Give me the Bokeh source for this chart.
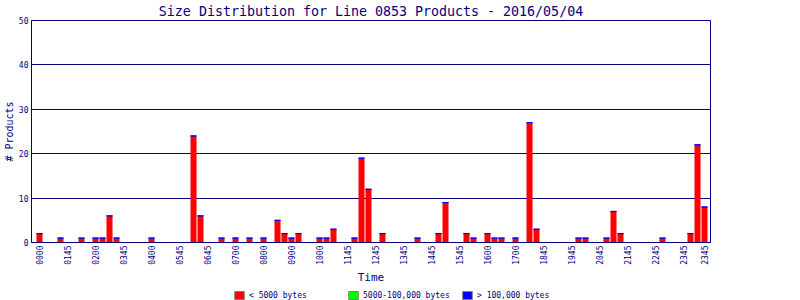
from bokeh.plotting import figure
from bokeh.layouts import column
from bokeh.models import Range1d, FixedTicker, Legend, LegendItem, ColumnDataSource
from bokeh.embed import file_html
from bokeh.resources import INLINE
from math import pi

# 15-minute slots over the day (0 = 00:00 ... 95 = 23:45)
slots = list(range(96))

# products < 5000 bytes per slot
small_counts = [
    2, 0, 0, 1, 0, 0, 1, 0, 1, 1, 6, 1, 0, 0, 0, 0,
    1, 0, 0, 0, 0, 0, 24, 6, 0, 0, 1, 0, 1, 0, 1, 0,
    1, 0, 5, 2, 1, 2, 0, 0, 1, 1, 3, 0, 0, 1, 19, 12,
    0, 2, 0, 0, 0, 0, 1, 0, 0, 2, 9, 0, 0, 2, 1, 0,
    2, 1, 1, 0, 1, 0, 27, 3, 0, 0, 0, 0, 0, 1, 1, 0,
    0, 1, 7, 2, 0, 0, 0, 0, 0, 1, 0, 0, 0, 2, 22, 8,
]
# products 5000-100,000 bytes per slot
medium_counts = [
    0, 0, 0, 0, 0, 0, 0, 0, 0, 0, 0, 0, 0, 0, 0, 0,
    0, 0, 0, 0, 0, 0, 0, 0, 0, 0, 0, 0, 0, 0, 0, 0,
    0, 0, 0, 0, 0, 0, 0, 0, 0, 0, 0, 0, 0, 0, 0, 0,
    0, 0, 0, 0, 0, 0, 0, 0, 0, 0, 0, 0, 0, 0, 0, 0,
    0, 0, 0, 0, 0, 0, 0, 0, 0, 0, 0, 0, 0, 0, 0, 0,
    0, 0, 0, 0, 0, 0, 0, 0, 0, 0, 0, 0, 0, 0, 0, 0,
]
# products > 100,000 bytes per slot
large_counts = [
    0, 0, 0, 0, 0, 0, 0, 0, 0, 0, 0, 0, 0, 0, 0, 0,
    0, 0, 0, 0, 0, 0, 0, 0, 0, 0, 0, 0, 0, 0, 0, 0,
    0, 0, 0, 0, 0, 0, 0, 0, 0, 0, 0, 0, 0, 0, 0, 0,
    0, 0, 0, 0, 0, 0, 0, 0, 0, 0, 0, 0, 0, 0, 0, 0,
    0, 0, 0, 0, 0, 0, 0, 0, 0, 0, 0, 0, 0, 0, 0, 0,
    0, 0, 0, 0, 0, 0, 0, 0, 0, 0, 0, 0, 0, 0, 0, 0,
]

tick_slots = [0, 4, 8, 12, 16, 20, 24, 28, 32, 36, 40, 44, 48, 52, 56, 60,
              64, 68, 72, 76, 80, 84, 88, 92, 95]
tick_labels = ["0000", "0145", "0200", "0345", "0400", "0545", "0645", "0700",
               "0800", "0900", "1000", "1145", "1245", "1345", "1445", "1545",
               "1600", "1700", "1845", "1945", "2045", "2145", "2245", "2345",
               "2345"]
y_ticks = [0, 10, 20, 30, 40, 50]

series_labels = ["< 5000 bytes", "5000-100,000 bytes", "> 100,000 bytes"]
series_colors = ["#ff0000", "#00ff00", "#0000ff"]

NAVY = "#000080"
MONO = "DejaVu Sans Mono"

top_small = small_counts
top_medium = [a + b for a, b in zip(top_small, medium_counts)]
top_large = [a + b for a, b in zip(top_medium, large_counts)]
src = ColumnDataSource(dict(x=slots, s=top_small, m=top_medium, l=top_large))

p = figure(width=800, height=286, output_backend="svg", toolbar_location=None,
           x_range=Range1d(-1.143, 95.857), y_range=Range1d(0, 50),
           min_border_left=31, min_border_right=90, min_border_top=20,
           min_border_bottom=44)
p.background_fill_color = "white"
p.border_fill_color = "white"
p.outline_line_color = NAVY
p.outline_line_width = 1

p.title.text = "Size Distribution for Line 0853 Products - 2016/05/04"
p.title.align = "center"
p.title.text_font = MONO
p.title.text_font_size = "13.3px"
p.title.text_font_style = "normal"
p.title.text_color = NAVY
p.title.standoff = 3
p.title.offset = 0

bw = 6 / 7
p.vbar(x="x", bottom=0, top="s", width=bw, source=src,
       fill_color=series_colors[0], line_color=None)
p.vbar(x="x", bottom="s", top="m", width=bw, source=src,
       fill_color=series_colors[1], line_color=None)
p.vbar(x="x", bottom="m", top="l", width=bw, source=src,
       fill_color=series_colors[2], line_color=series_colors[2], line_width=1)

# axes
p.xaxis.ticker = FixedTicker(ticks=tick_slots)
p.xaxis.major_label_overrides = {t: l for t, l in zip(tick_slots, tick_labels)}
p.xaxis.major_label_orientation = pi / 2
p.yaxis.ticker = FixedTicker(ticks=y_ticks)
for ax in (p.xaxis[0], p.yaxis[0]):
    ax.axis_line_color = NAVY
    ax.axis_line_width = 1
    ax.major_tick_line_color = None
    ax.minor_tick_line_color = None
    ax.major_tick_out = 0
    ax.major_tick_in = 0
    ax.minor_tick_out = 0
    ax.minor_tick_in = 0
    ax.major_label_text_font = MONO
    ax.major_label_text_font_size = "8px"
    ax.major_label_text_color = NAVY
    ax.major_label_standoff = 3
    ax.axis_label_text_font = MONO
    ax.axis_label_text_font_style = "normal"
    ax.axis_label_text_color = NAVY
    ax.axis_label_standoff = 3
p.xaxis.axis_label = "Time"
p.xaxis.axis_label_text_font_size = "11px"
p.yaxis.axis_label = "# Products"
p.yaxis.axis_label_text_font_size = "10px"
p.yaxis.axis_label_standoff = 1

p.xgrid.visible = False
p.ygrid.ticker = FixedTicker(ticks=[10, 20, 30, 40])
p.ygrid.grid_line_color = NAVY
p.ygrid.grid_line_width = 1

# legend strip below the chart (swatch renderers are hidden; only the legend shows them)
lf = figure(width=800, height=14, output_backend="svg", toolbar_location=None,
            x_range=Range1d(0, 1), y_range=Range1d(0, 1),
            x_axis_location=None, y_axis_location=None, min_border=0)
lf.outline_line_color = None
lf.xgrid.visible = False
lf.ygrid.visible = False
lf.background_fill_color = "white"
lf.border_fill_color = "white"
leg_renderers = [lf.vbar(x=[0.5], top=[1], width=0.1,
                         fill_color=c, line_color="#808080", visible=False)
                 for c in series_colors]
legend = Legend(items=[LegendItem(label=l, renderers=[r])
                       for l, r in zip(series_labels, leg_renderers)],
                orientation="horizontal", location=(202, 0),
                glyph_width=12, glyph_height=10, label_standoff=4,
                label_width=98, label_height=10, spacing=0, padding=0, margin=0,
                border_line_color=None, background_fill_alpha=0,
                inactive_fill_alpha=0, click_policy="none",
                label_text_font=MONO, label_text_font_size="8px",
                label_text_color=NAVY)
lf.add_layout(legend, "center")

layout = column(p, lf, spacing=0)
open("out.html", "w").write(file_html(layout, INLINE))
